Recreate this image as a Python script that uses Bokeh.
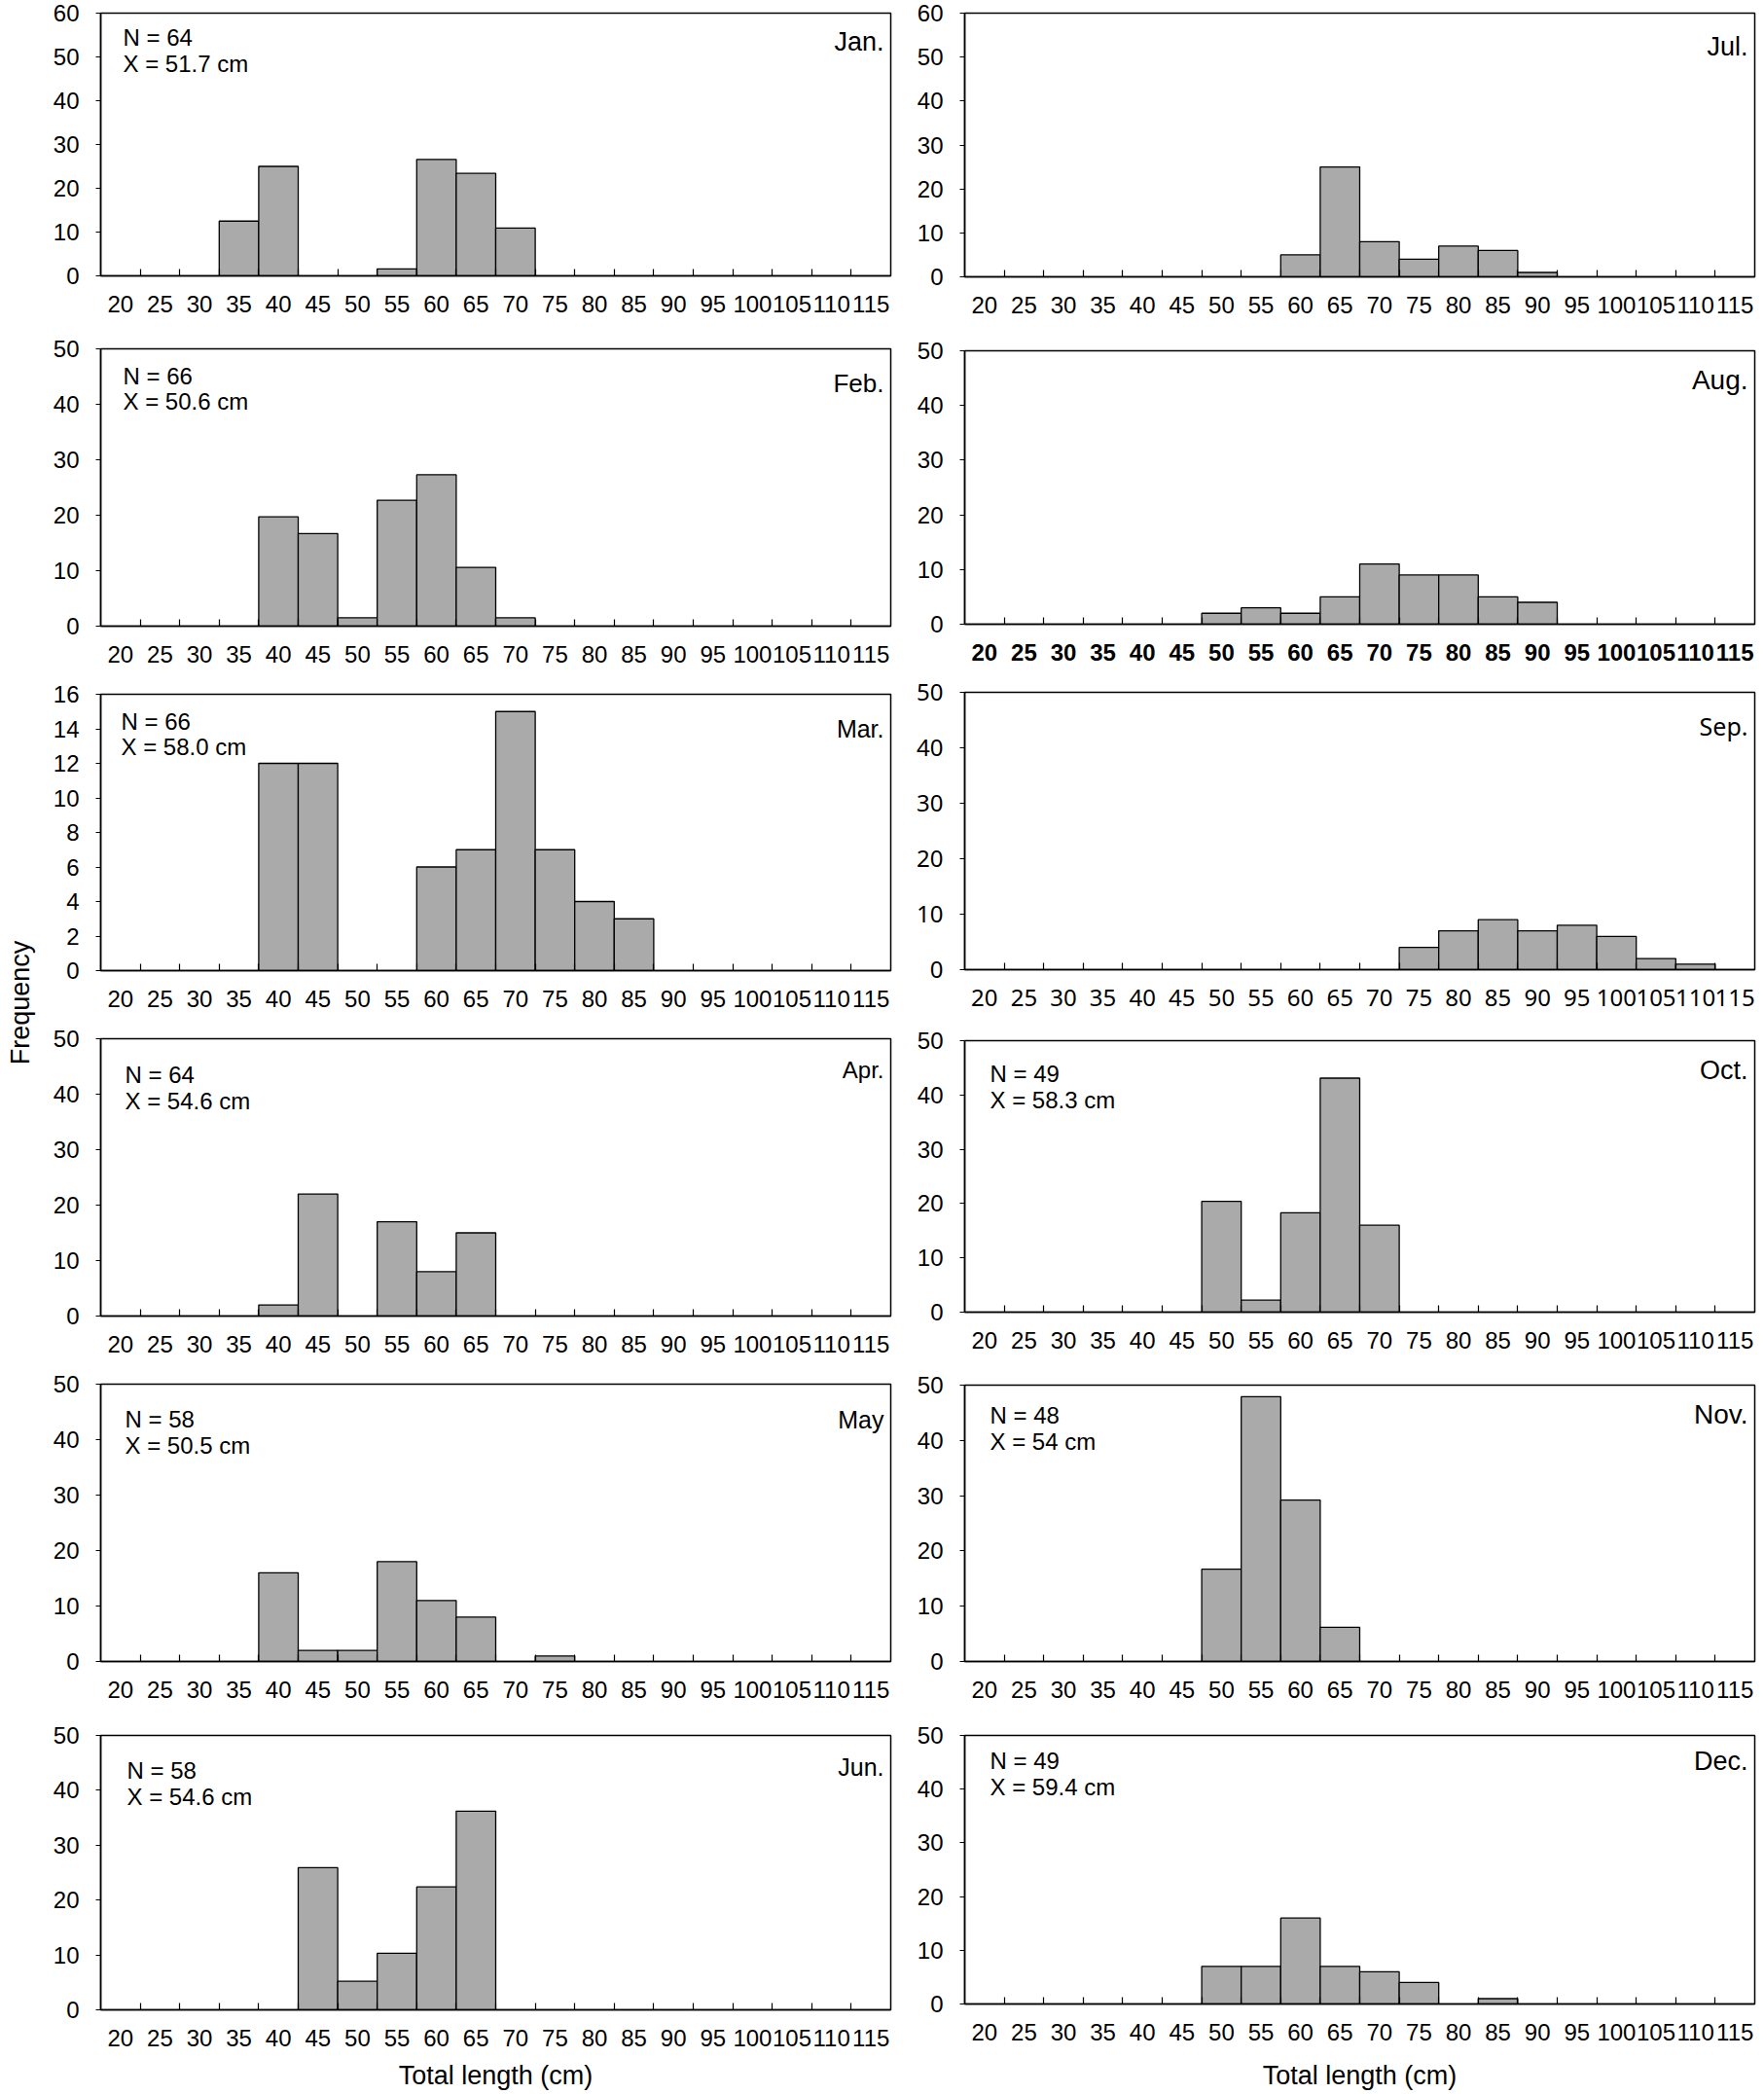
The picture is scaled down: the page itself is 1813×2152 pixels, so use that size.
import math
from bokeh.plotting import figure
from bokeh.layouts import column, row
from bokeh.models import Range1d, FixedTicker
from bokeh.core.properties import value
from bokeh.embed import file_html
from bokeh.resources import INLINE

# ---------------- data ----------------
bins = [20, 25, 30, 35, 40, 45, 50, 55, 60, 65, 70, 75, 80, 85, 90, 95, 100, 105, 110, 115]
bin_edges = [22.5, 27.5, 32.5, 37.5, 42.5, 47.5, 52.5, 57.5, 62.5, 67.5,
             72.5, 77.5, 82.5, 87.5, 92.5, 97.5, 102.5, 107.5, 112.5]

jan = [0, 0, 0, 12.5, 25.0, 0, 0, 1.6, 26.6, 23.4, 10.9, 0, 0, 0, 0, 0, 0, 0, 0, 0]
feb = [0, 0, 0, 0, 19.7, 16.7, 1.5, 22.7, 27.3, 10.6, 1.5, 0, 0, 0, 0, 0, 0, 0, 0, 0]
mar = [0, 0, 0, 0, 12, 12, 0, 0, 6, 7, 15, 7, 4, 3, 0, 0, 0, 0, 0, 0]
apr = [0, 0, 0, 0, 2, 22, 0, 17, 8, 15, 0, 0, 0, 0, 0, 0, 0, 0, 0, 0]
may = [0, 0, 0, 0, 16, 2, 2, 18, 11, 8, 0, 1, 0, 0, 0, 0, 0, 0, 0, 0]
jun = [0, 0, 0, 0, 0, 25.9, 5.2, 10.3, 22.4, 36.2, 0, 0, 0, 0, 0, 0, 0, 0, 0, 0]
jul = [0, 0, 0, 0, 0, 0, 0, 0, 5, 25, 8, 4, 7, 6, 1, 0, 0, 0, 0, 0]
aug = [0, 0, 0, 0, 0, 0, 2, 3, 2, 5, 11, 9, 9, 5, 4, 0, 0, 0, 0, 0]
sep = [0, 0, 0, 0, 0, 0, 0, 0, 0, 0, 0, 4, 7, 9, 7, 8, 6, 2, 1, 0]
octo = [0, 0, 0, 0, 0, 0, 20.4, 2.2, 18.3, 43.1, 16.0, 0, 0, 0, 0, 0, 0, 0, 0, 0]
nov = [0, 0, 0, 0, 0, 0, 16.7, 47.9, 29.2, 6.2, 0, 0, 0, 0, 0, 0, 0, 0, 0, 0]
dec = [0, 0, 0, 0, 0, 0, 7, 7, 16, 7, 6, 4, 0, 1, 0, 0, 0, 0, 0, 0]

month_names = ["Jan.", "Feb.", "Mar.", "Apr.", "May", "Jun.",
               "Jul.", "Aug.", "Sep.", "Oct.", "Nov.", "Dec."]
month_values = [jan, feb, mar, apr, may, jun, jul, aug, sep, octo, nov, dec]
n_labels = ["N = 64", "N = 66", "N = 66", "N = 64", "N = 58", "N = 58",
            None, None, None, "N = 49", "N = 48", "N = 49"]
mean_labels = ["X = 51.7 cm", "X = 50.6 cm", "X = 58.0 cm", "X = 54.6 cm", "X = 50.5 cm", "X = 54.6 cm",
               None, None, None, "X = 58.3 cm", "X = 54 cm", "X = 59.4 cm"]
y_max = [60, 50, 16, 50, 50, 50, 60, 50, 50, 50, 50, 50]
y_step = [10, 10, 2, 10, 10, 10, 10, 10, 10, 10, 10, 10]

x_title = "Total length (cm)"
y_title = "Frequency"

# ---------------- layout / style (pixels) ----------------
# (canvas height, top border, bottom border, left border, frame width, total width)
left_geo = [
    (333, 13, 50, 65, 812, 897),
    (360, 25, 50, 65, 812, 897),
    (355, 20, 51, 65, 812, 897),
    (355, 19, 51, 65, 812, 897),
    (355, 19, 51, 65, 812, 897),
    (392, 25, 83, 65, 812, 897),
]
right_geo = [
    (333, 13, 49, 56, 812, 878),
    (360, 27, 52, 56, 812, 878),
    (355, 18, 52, 56, 812, 878),
    (355, 21, 55, 56, 812, 878),
    (355, 20, 51, 56, 812, 878),
    (392, 25, 89, 56, 812, 878),
]
geo = left_geo + right_geo
month_font_px = [27, 26, 25, 24, 25, 25, 27, 28, 25, 27, 28, 27]
month_dy = [29, 35, 35, 32, 36, 33, 34, 30, 34, 30, 30, 27]
n_dy = [25, 28, 28, 37, 36, 36, 0, 0, 0, 34, 31, 26]
mean_dy = [52, 54, 54, 64, 63, 63, 0, 0, 0, 61, 58, 53]
n_dx = [23, 23, 21, 25, 25, 27, 0, 0, 0, 26, 26, 26]
xlabel_standoff = {5: 12, 11: 18}

FONT = "Liberation Sans"
BAR = "#AAAAAA"


def make_panel(i):
    h, top_b, bot_b, left_b, fw, tw = geo[i]
    right_b = tw - left_b - fw
    fh = h - top_b - bot_b
    ymax = y_max[i]
    font = "Noto Sans" if i == 8 else FONT
    p = figure(width=tw, height=h,
               x_range=Range1d(17.5, 117.5), y_range=Range1d(0, ymax),
               output_backend="svg", toolbar_location=None,
               min_border_left=left_b, min_border_right=right_b,
               min_border_top=top_b, min_border_bottom=bot_b)
    p.grid.visible = False
    p.outline_line_color = "black"
    p.outline_line_width = 1.5
    p.background_fill_color = "white"
    p.border_fill_color = "white"

    vals = month_values[i]
    xs = [b for b, v in zip(bins, vals) if v > 0]
    ys = [v for v in vals if v > 0]
    p.vbar(x=xs, top=ys, width=5, bottom=0, fill_color=BAR,
           line_color="black", line_width=1.3)

    xa = p.xaxis[0]
    xa.ticker = FixedTicker(ticks=bins, minor_ticks=bin_edges)
    xa.major_label_overrides = {b: str(b) for b in bins}
    xa.major_tick_in = 0
    xa.major_tick_out = 0
    xa.major_tick_line_color = None
    xa.minor_tick_in = 7
    xa.minor_tick_out = 0
    xa.minor_tick_line_color = "black"
    xa.minor_tick_line_width = 1.2
    xa.axis_line_color = "black"
    xa.axis_line_width = 1.5
    xa.major_label_standoff = 20
    xa.major_label_text_font = font
    xa.major_label_text_font_size = "24px"
    xa.major_label_text_color = "black"
    if i == 7:
        xa.major_label_text_font_style = "bold"

    ya = p.yaxis[0]
    ya.ticker = FixedTicker(ticks=[t for t in range(0, ymax + 1, y_step[i])])
    ya.major_tick_in = 0
    ya.major_tick_out = 5
    ya.major_tick_line_color = "black"
    ya.minor_tick_line_color = None
    ya.axis_line_color = "black"
    ya.axis_line_width = 1.5
    ya.major_label_standoff = 17
    ya.major_label_text_font = font
    ya.major_label_text_font_size = "24px"
    ya.major_label_text_color = "black"

    if i in xlabel_standoff:
        xa.axis_label = x_title
        xa.axis_label_text_font = FONT
        xa.axis_label_text_font_size = "27px"
        xa.axis_label_text_font_style = "normal"
        xa.axis_label_text_color = "black"
        xa.axis_label_standoff = xlabel_standoff[i]

    px_x = 100.0 / fw
    px_y = ymax / float(fh)
    # month name
    p.text(x=[117.5 - 7 * px_x], y=[ymax - month_dy[i] * px_y], text=[month_names[i]],
           text_align="right", text_baseline="middle",
           text_font=value(font), text_font_size=f"{month_font_px[i]}px",
           text_color="black")
    if n_labels[i]:
        p.text(x=[17.5 + n_dx[i] * px_x] * 2,
               y=[ymax - n_dy[i] * px_y, ymax - mean_dy[i] * px_y],
               text=[n_labels[i], mean_labels[i]],
               text_align="left", text_baseline="middle",
               text_font=value(FONT), text_font_size="24px", text_color="black")
    return p


panels = [make_panel(i) for i in range(12)]

# y-title strip
strip_h = sum(g[0] for g in left_geo)
ft = figure(width=38, height=strip_h, x_range=Range1d(0, 38), y_range=Range1d(strip_h, 0),
            output_backend="svg", toolbar_location=None,
            x_axis_location=None, y_axis_location=None,
            min_border_left=0, min_border_right=0, min_border_top=0, min_border_bottom=0)
ft.grid.visible = False
ft.outline_line_color = None
ft.text(x=[20], y=[1030], text=[y_title], angle=math.pi / 2,
        text_align="center", text_baseline="middle",
        text_font=value(FONT), text_font_size="27px", text_color="black")

layout = row(ft, column(*panels[:6], spacing=0), column(*panels[6:], spacing=0), spacing=0)

open("out.html", "w").write(file_html(layout, INLINE))
